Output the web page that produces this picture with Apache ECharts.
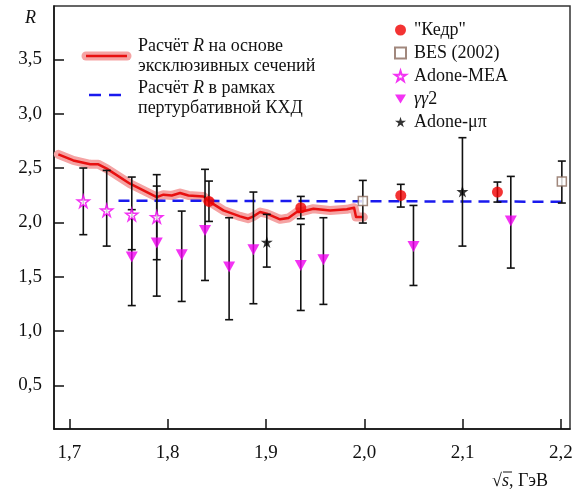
<!DOCTYPE html>
<html>
<head>
    <meta charset="UTF-8">
    <script src="https://cdn.jsdelivr.net/npm/echarts@6/dist/echarts.min.js"></script>
    <style>
        html, body { margin:0; padding:0; background:#fff; }
        #main { width:582px; height:492px; }
    </style>
</head>
<body>
<div id="main"></div>
<script>
    // ось и подписи
    var xTicks = [1.7, 1.8, 1.9, 2.0, 2.1, 2.2];
    var yTicks = [0.5, 1.0, 1.5, 2.0, 2.5, 3.0, 3.5];

    // расчёт R по эксклюзивным сечениям
    var exclX = [1.6888, 1.704, 1.7212, 1.7295, 1.738, 1.7617, 1.7889, 1.7957, 1.8042, 1.8126, 1.8211, 1.8363, 1.8421, 1.8567, 1.8736, 1.882, 1.8872, 1.894, 1.9008, 1.9143, 1.9228, 1.9313, 1.9347, 1.9482, 1.9652, 1.9822, 1.9896, 1.9916, 1.999];
    var exclY = [2.626, 2.57, 2.534, 2.534, 2.494, 2.356, 2.233, 2.255, 2.248, 2.27, 2.248, 2.239, 2.193, 2.11, 2.055, 2.034, 2.055, 2.095, 2.08, 2.028, 2.04, 2.095, 2.095, 2.126, 2.11, 2.12, 2.135, 2.049, 2.049];

    // пертурбативная КХД
    var qcdX = [1.75, 2.205];
    var qcdY = [2.2, 2.19];

    // "Кедр"
    var kedrX  = [1.842, 1.9354, 2.0371, 2.1354];
    var kedrY  = [2.193, 2.135, 2.248, 2.279];
    var kedrLo = [2.009, 2.034, 2.141, 2.187];
    var kedrHi = [2.38, 2.239, 2.35, 2.371];

    // BES (2002)
    var besX  = [1.9985, 2.2009];
    var besY  = [2.196, 2.377];
    var besLo = [1.994, 2.178];
    var besHi = [2.386, 2.564];

    // Adone-MEA
    var meaX  = [1.7142, 1.738, 1.7635, 1.7889];
    var meaY  = [2.193, 2.11, 2.071, 2.049];
    var meaLo = [1.887, 1.782, 1.749, 1.657];
    var meaHi = [2.5, 2.478, 2.417, 2.439];

    // γγ2
    var ggX  = [1.7635, 1.7889, 1.8143, 1.838, 1.8625, 1.8872, 1.9354, 1.9584, 2.05, 2.149];
    var ggY  = [1.681, 1.81, 1.703, 1.926, 1.589, 1.749, 1.604, 1.657, 1.779, 2.012];
    var ggLo = [1.235, 1.322, 1.273, 1.466, 1.105, 1.252, 1.19, 1.246, 1.42, 1.58];
    var ggHi = [2.117, 2.334, 2.104, 2.488, 2.043, 2.279, 1.982, 2.043, 2.156, 2.423];

    // Adone-μπ
    var mupiX  = [1.9008, 2.0998];
    var mupiY  = [1.819, 2.285];
    var mupiLo = [1.589, 1.782];
    var mupiHi = [2.074, 2.779];

    var SERIF = 'Liberation Serif';
    var STAR = 'path://M50,0 L61,35 L98,35 L68,57 L79,91 L50,70 L21,91 L32,57 L2,35 L39,35 Z';
    var TRI_DOWN = 'path://M0,0 L12,0 L6,10 Z';

    // стили для rich-текста
    var RICH = {
        n:{ fontFamily:SERIF, fontSize:18, lineHeight:20, color:'#111' },
        i:{ fontFamily:SERIF, fontSize:18, lineHeight:20, fontStyle:'italic', color:'#111' }
    };

    function zip(xs, ys) {
        return xs.map(function (x, i) { return [x, ys[i]]; });
    }
    var errData = [];
    function addErr(xs, lo, hi) {
        xs.forEach(function (x, i) { errData.push([x, lo[i], hi[i]]); });
    }
    addErr(kedrX, kedrLo, kedrHi);
    addErr(besX, besLo, besHi);
    addErr(meaX, meaLo, meaHi);
    addErr(ggX, ggLo, ggHi);
    addErr(mupiX, mupiLo, mupiHi);

    function renderErr(params, api) {
        var x = api.value(0);
        var top = api.coord([x, api.value(2)]);
        var bot = api.coord([x, api.value(1)]);
        var w = 4;
        var st = { stroke:'#111', lineWidth:1.6 };
        return {
            type:'group',
            children:[
                { type:'line', shape:{ x1:top[0], y1:top[1], x2:bot[0], y2:bot[1] }, style:st },
                { type:'line', shape:{ x1:top[0]-w, y1:top[1], x2:top[0]+w, y2:top[1] }, style:st },
                { type:'line', shape:{ x1:bot[0]-w, y1:bot[1], x2:bot[0]+w, y2:bot[1] }, style:st }
            ]
        };
    }

    function label(text, left, top) {
        return { text:text, left:left, top:top, padding:0, itemGap:0,
                 textStyle:{ fontFamily:SERIF, fontSize:18, fontWeight:'normal', color:'#111', rich:RICH } };
    }

    var chart = echarts.init(document.getElementById('main'));
    var option = {
        animation:false,
        textStyle:{ fontFamily:SERIF },
        title:[
            label('{n|Расчёт }{i|R}{n| на основе}\n{n|эксклюзивных сечений}', 138, 36),
            label('{n|Расчёт }{i|R}{n| в рамках}\n{n|пертурбативной КХД}', 138, 78),
            label('{i|R}', 25, 8),
            label('{n|√}{i|s}{n|, ГэВ}', 492, 471)
        ],
        grid:{ left:54, right:12, top:6, bottom:63, show:true, borderColor:'#333', borderWidth:1.5 },
        xAxis:{
            type:'value', min:1.6844, max:2.2092,
            splitLine:{ show:false },
            axisLine:{ lineStyle:{ color:'#111', width:1.5 } },
            axisTick:{ inside:true, length:10, customValues:xTicks, lineStyle:{ color:'#111', width:1.5 } },
            axisLabel:{
                customValues:xTicks, margin:15, color:'#111', fontFamily:SERIF, fontSize:19,
                formatter:function (v) { return v.toFixed(1).replace('.', ','); }
            }
        },
        yAxis:{
            type:'value', min:0.1, max:3.99,
            splitLine:{ show:false },
            axisLine:{ lineStyle:{ color:'#111', width:1.5 } },
            axisTick:{ inside:true, length:10, customValues:yTicks, lineStyle:{ color:'#111', width:1.5 } },
            axisLabel:{
                customValues:yTicks, margin:12, color:'#111', fontFamily:SERIF, fontSize:19,
                formatter:function (v) { return v.toFixed(1).replace('.', ','); }
            }
        },
        legend:{
            orient:'vertical', left:389, top:16, itemGap:5,
            itemWidth:11, itemHeight:11,
            data:['"Кедр"', 'BES (2002)', 'Adone-MEA', 'γγ2', 'Adone-μπ'],
            textStyle:{
                fontFamily:SERIF, fontSize:18, color:'#111', padding:[0,0,0,3],
                rich:RICH
            },
            formatter:function (n) { return n === 'γγ2' ? '{i|γγ}{n|2}' : '{n|' + n + '}'; }
        },
        graphic:[
            { type:'line', shape:{ x1:86, y1:56, x2:127, y2:56 }, style:{ stroke:'#f5a3a3', lineWidth:9, lineCap:'round' } },
            { type:'line', shape:{ x1:86, y1:56, x2:127, y2:56 }, style:{ stroke:'#e81010', lineWidth:2.5 } },
            { type:'line', shape:{ x1:89, y1:95, x2:128, y2:95 }, style:{ stroke:'#1a1aee', lineWidth:2.5, lineDash:[12, 8] } },
            { type:'line', shape:{ x1:503, y1:472, x2:512, y2:472 }, style:{ stroke:'#111', lineWidth:1 } }
        ],
        series:[
            { type:'line', name:'halo', data:zip(exclX, exclY), showSymbol:false, z:1,
              lineStyle:{ color:'#f5a3a3', width:9, cap:'round', join:'round' } },
            { type:'line', name:'excl', data:zip(exclX, exclY), showSymbol:false, z:2,
              lineStyle:{ color:'#e81010', width:2.5, join:'round' } },
            { type:'line', name:'qcd', data:zip(qcdX, qcdY), showSymbol:false, z:3,
              lineStyle:{ color:'#1a1aee', width:2.5, type:[11, 7] } },
            { type:'custom', name:'err', data:errData, renderItem:renderErr, z:4,
              encode:{ x:0, y:[1, 2] } },
            { type:'scatter', name:'"Кедр"', data:zip(kedrX, kedrY), symbol:'circle', symbolSize:11, z:6,
              itemStyle:{ color:'#f00000' } },
            { type:'scatter', name:'BES (2002)', data:zip(besX, besY), symbol:'rect', symbolSize:9, z:6,
              itemStyle:{ color:'#fff', borderColor:'#8a6a5c', borderWidth:1.5 } },
            { type:'scatter', name:'Adone-MEA', data:zip(meaX, meaY), symbol:STAR, symbolSize:12, z:6,
              itemStyle:{ color:'#fff', borderColor:'#f000f0', borderWidth:1.5 } },
            { type:'scatter', name:'γγ2', data:zip(ggX, ggY), symbol:TRI_DOWN, symbolSize:[12, 11], z:6,
              itemStyle:{ color:'#f000f0' } },
            { type:'scatter', name:'Adone-μπ', data:zip(mupiX, mupiY), symbol:STAR, symbolSize:12, z:6,
              itemStyle:{ color:'#000' } }
        ]
    };
    chart.setOption(option);
    if (document.fonts && document.fonts.load) {
        document.fonts.load('18px "Liberation Serif"').then(function () {
            chart.clear();
            chart.setOption(option);
        });
    }
</script>
</body>
</html>
